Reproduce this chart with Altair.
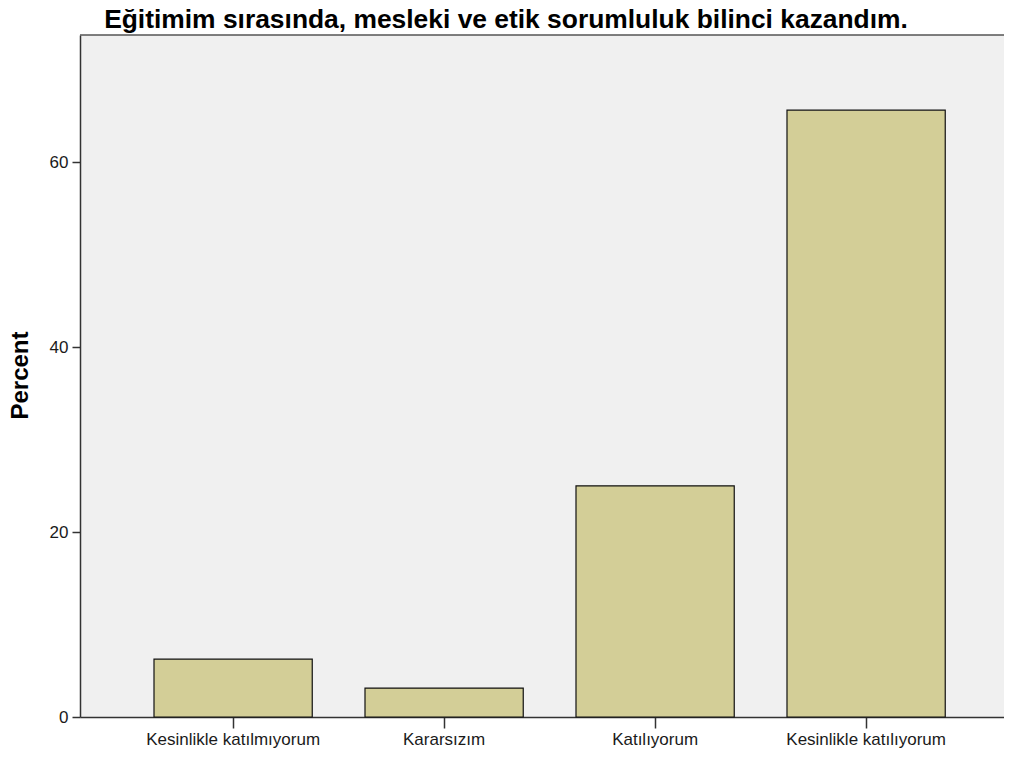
import altair as alt
import pandas as pd

categories = ["Kesinlikle katılmıyorum", "Kararsızım", "Katılıyorum", "Kesinlikle katılıyorum"]
percent = [6.25, 3.125, 25.0, 65.625]
y_ticks = [0, 20, 40, 60]
y_max = 73.75
title_text = "Eğitimim sırasında, mesleki ve etik sorumluluk bilinci kazandım."
y_title = "Percent"

df = pd.DataFrame({"cat": categories, "pct": percent})

W, H = 924, 682
FONT = "Liberation Sans"
INK = "#1a1a1a"
LINE = "#333333"

bars = alt.Chart(df).mark_bar(color="#D3CE97", stroke="#111111", strokeWidth=1.2).encode(
    x=alt.X(
        "cat:N", sort=categories, title=None,
        scale=alt.Scale(paddingInner=0.25, paddingOuter=0.3146, align=0.5574),
        axis=alt.Axis(labelAngle=0, labelFont=FONT, labelFontSize=17, labelColor=INK,
                      domainColor=LINE, domainWidth=1.5, tickColor=LINE, tickWidth=1.5,
                      tickSize=11, labelPadding=3, labelLimit=400),
    ),
    y=alt.Y(
        "pct:Q", title=y_title,
        scale=alt.Scale(domain=[0, y_max], nice=False, zero=True),
        axis=alt.Axis(values=y_ticks, grid=False, labelFont=FONT, labelFontSize=17,
                      labelColor=INK, labelPadding=4, domainColor=LINE, domainWidth=1.5,
                      tickColor=LINE, tickWidth=1.5, tickSize=8,
                      titleFont=FONT, titleFontSize=24, titleFontWeight="bold", titleColor="#000000",
                      titleAngle=270, titleX=-60, titleY=340, titleAlign="center",
                      titleBaseline="middle"),
    ),
)

top = alt.Chart(alt.Data(values=[{}])).mark_rule(color="#555555", strokeWidth=1.5).encode(
    x=alt.value(0), x2=alt.value(W), y=alt.value(0)
)

chart = alt.layer(bars, top).properties(
    width=W, height=H, background="white",
    title=alt.TitleParams(text=title_text, font=FONT, fontSize=26.4, fontWeight="bold",
                          color="#000000", anchor="middle", frame="group", dx=-36,
                          offset=1),
    padding={"left": 72, "top": 27, "right": 0, "bottom": 32},
    autosize=alt.AutoSizeParams(type="none"),
).configure_view(stroke=None, fill="#F0F0F0")

chart.save("out.html", embed_options={"renderer": "svg", "actions": False})
